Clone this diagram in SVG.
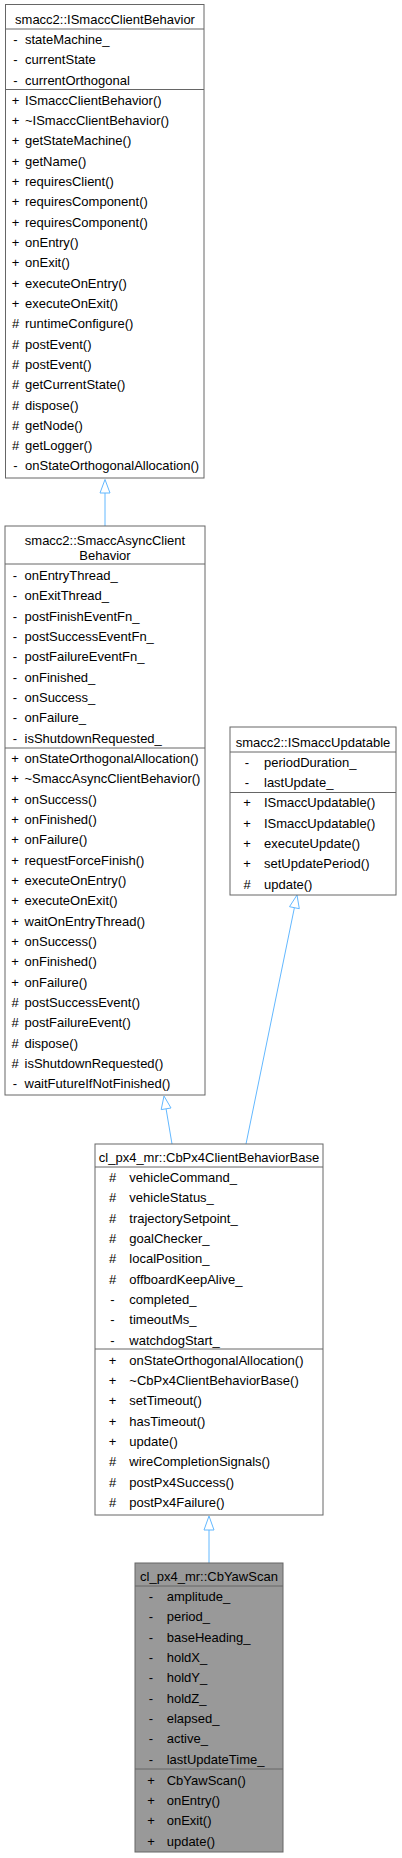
<svg xmlns="http://www.w3.org/2000/svg" width="402" height="1858" viewBox="0 0 402 1858">
<style>
text{font-family:"Liberation Sans",Arial,Helvetica,sans-serif;font-size:13px;fill:#000}
.t{text-anchor:middle}
.p{text-anchor:middle}
.box{fill:#fff;stroke:#666;stroke-width:1}
.cur{fill:#999;stroke:#666;stroke-width:1}
.sep{stroke:#666;stroke-width:1}
.edge{stroke:#63b8ff;stroke-width:1;fill:none}
.head{fill:#fff;stroke:#63b8ff;stroke-width:1}
</style>
<rect width="402" height="1858" fill="#fff"/>
<g id="connectors">
<line class="edge" x1="105" y1="526" x2="105" y2="493"/>
<polygon class="head" points="105,479.5 100,493 110,493"/>
<line class="edge" x1="172" y1="1144" x2="166.1" y2="1109"/>
<polygon class="head" points="164,1096 171,1108 161.2,1109.6"/>
<line class="edge" x1="246" y1="1144" x2="294.4" y2="907.7"/>
<polygon class="head" points="297,895 299.3,908.7 289.5,906.7"/>
<line class="edge" x1="209" y1="1563" x2="209" y2="1530"/>
<polygon class="head" points="209,1516 204,1530 214,1530"/>
</g>
<g id="node-ISmaccClientBehavior">
<rect class="box" x="5.5" y="4.5" width="198.5" height="473.5"/>
<line class="sep" x1="5.5" y1="29" x2="204" y2="29"/>
<line class="sep" x1="5.5" y1="89.5" x2="204" y2="89.5"/>
<text class="t" x="105" y="23.8">smacc2::ISmaccClientBehavior</text>
<text class="p" x="15.5" y="44">-</text><text x="25" y="44">stateMachine_</text>
<text class="p" x="15.5" y="64.3">-</text><text x="25" y="64.3">currentState</text>
<text class="p" x="15.5" y="84.7">-</text><text x="25" y="84.7">currentOrthogonal</text>
<text class="p" x="15.5" y="104.5">+</text><text x="25" y="104.5">ISmaccClientBehavior()</text>
<text class="p" x="15.5" y="124.8">+</text><text x="25" y="124.8">~ISmaccClientBehavior()</text>
<text class="p" x="15.5" y="145.2">+</text><text x="25" y="145.2">getStateMachine()</text>
<text class="p" x="15.5" y="165.5">+</text><text x="25" y="165.5">getName()</text>
<text class="p" x="15.5" y="185.8">+</text><text x="25" y="185.8">requiresClient()</text>
<text class="p" x="15.5" y="206.2">+</text><text x="25" y="206.2">requiresComponent()</text>
<text class="p" x="15.5" y="226.5">+</text><text x="25" y="226.5">requiresComponent()</text>
<text class="p" x="15.5" y="246.8">+</text><text x="25" y="246.8">onEntry()</text>
<text class="p" x="15.5" y="267.1">+</text><text x="25" y="267.1">onExit()</text>
<text class="p" x="15.5" y="287.5">+</text><text x="25" y="287.5">executeOnEntry()</text>
<text class="p" x="15.5" y="307.8">+</text><text x="25" y="307.8">executeOnExit()</text>
<text class="p" x="15.5" y="328.1">#</text><text x="25" y="328.1">runtimeConfigure()</text>
<text class="p" x="15.5" y="348.5">#</text><text x="25" y="348.5">postEvent()</text>
<text class="p" x="15.5" y="368.8">#</text><text x="25" y="368.8">postEvent()</text>
<text class="p" x="15.5" y="389.1">#</text><text x="25" y="389.1">getCurrentState()</text>
<text class="p" x="15.5" y="409.5">#</text><text x="25" y="409.5">dispose()</text>
<text class="p" x="15.5" y="429.8">#</text><text x="25" y="429.8">getNode()</text>
<text class="p" x="15.5" y="450.1">#</text><text x="25" y="450.1">getLogger()</text>
<text class="p" x="15.5" y="470.4">-</text><text x="25" y="470.4">onStateOrthogonalAllocation()</text>
</g>
<g id="node-SmaccAsyncClientBehavior">
<rect class="box" x="5" y="526" width="200" height="569"/>
<line class="sep" x1="5" y1="564" x2="205" y2="564"/>
<line class="sep" x1="5" y1="748" x2="205" y2="748"/>
<text class="t" x="105" y="544.5">smacc2::SmaccAsyncClient</text>
<text class="t" x="105" y="559.5">Behavior</text>
<text class="p" x="15" y="580">-</text><text x="24.5" y="580">onEntryThread_</text>
<text class="p" x="15" y="600.3">-</text><text x="24.5" y="600.3">onExitThread_</text>
<text class="p" x="15" y="620.7">-</text><text x="24.5" y="620.7">postFinishEventFn_</text>
<text class="p" x="15" y="641">-</text><text x="24.5" y="641">postSuccessEventFn_</text>
<text class="p" x="15" y="661.3">-</text><text x="24.5" y="661.3">postFailureEventFn_</text>
<text class="p" x="15" y="681.7">-</text><text x="24.5" y="681.7">onFinished_</text>
<text class="p" x="15" y="702">-</text><text x="24.5" y="702">onSuccess_</text>
<text class="p" x="15" y="722.3">-</text><text x="24.5" y="722.3">onFailure_</text>
<text class="p" x="15" y="742.6">-</text><text x="24.5" y="742.6">isShutdownRequested_</text>
<text class="p" x="15" y="763">+</text><text x="24.5" y="763">onStateOrthogonalAllocation()</text>
<text class="p" x="15" y="783.3">+</text><text x="24.5" y="783.3">~SmaccAsyncClientBehavior()</text>
<text class="p" x="15" y="803.7">+</text><text x="24.5" y="803.7">onSuccess()</text>
<text class="p" x="15" y="824">+</text><text x="24.5" y="824">onFinished()</text>
<text class="p" x="15" y="844.3">+</text><text x="24.5" y="844.3">onFailure()</text>
<text class="p" x="15" y="864.7">+</text><text x="24.5" y="864.7">requestForceFinish()</text>
<text class="p" x="15" y="885">+</text><text x="24.5" y="885">executeOnEntry()</text>
<text class="p" x="15" y="905.3">+</text><text x="24.5" y="905.3">executeOnExit()</text>
<text class="p" x="15" y="925.6">+</text><text x="24.5" y="925.6">waitOnEntryThread()</text>
<text class="p" x="15" y="946">+</text><text x="24.5" y="946">onSuccess()</text>
<text class="p" x="15" y="966.3">+</text><text x="24.5" y="966.3">onFinished()</text>
<text class="p" x="15" y="986.6">+</text><text x="24.5" y="986.6">onFailure()</text>
<text class="p" x="15" y="1007">#</text><text x="24.5" y="1007">postSuccessEvent()</text>
<text class="p" x="15" y="1027.3">#</text><text x="24.5" y="1027.3">postFailureEvent()</text>
<text class="p" x="15" y="1047.6">#</text><text x="24.5" y="1047.6">dispose()</text>
<text class="p" x="15" y="1068">#</text><text x="24.5" y="1068">isShutdownRequested()</text>
<text class="p" x="15" y="1088.3">-</text><text x="24.5" y="1088.3">waitFutureIfNotFinished()</text>
</g>
<g id="node-ISmaccUpdatable">
<rect class="box" x="230" y="727" width="166" height="168"/>
<line class="sep" x1="230" y1="752" x2="396" y2="752"/>
<line class="sep" x1="230" y1="792.5" x2="396" y2="792.5"/>
<text class="t" x="313" y="746.5">smacc2::ISmaccUpdatable</text>
<text class="p" x="247" y="766.5">-</text><text x="264" y="766.5">periodDuration_</text>
<text class="p" x="247" y="786.8">-</text><text x="264" y="786.8">lastUpdate_</text>
<text class="p" x="247" y="807.3">+</text><text x="264" y="807.3">ISmaccUpdatable()</text>
<text class="p" x="247" y="827.6">+</text><text x="264" y="827.6">ISmaccUpdatable()</text>
<text class="p" x="247" y="848">+</text><text x="264" y="848">executeUpdate()</text>
<text class="p" x="247" y="868.3">+</text><text x="264" y="868.3">setUpdatePeriod()</text>
<text class="p" x="247" y="888.6">#</text><text x="264" y="888.6">update()</text>
</g>
<g id="node-CbPx4ClientBehaviorBase">
<rect class="box" x="95" y="1144" width="228" height="371"/>
<line class="sep" x1="95" y1="1167" x2="323" y2="1167"/>
<line class="sep" x1="95" y1="1349" x2="323" y2="1349"/>
<text class="t" x="209" y="1161.5">cl_px4_mr::CbPx4ClientBehaviorBase</text>
<text class="p" x="112.5" y="1182">#</text><text x="129.3" y="1182">vehicleCommand_</text>
<text class="p" x="112.5" y="1202.3">#</text><text x="129.3" y="1202.3">vehicleStatus_</text>
<text class="p" x="112.5" y="1222.7">#</text><text x="129.3" y="1222.7">trajectorySetpoint_</text>
<text class="p" x="112.5" y="1243">#</text><text x="129.3" y="1243">goalChecker_</text>
<text class="p" x="112.5" y="1263.3">#</text><text x="129.3" y="1263.3">localPosition_</text>
<text class="p" x="112.5" y="1283.7">#</text><text x="129.3" y="1283.7">offboardKeepAlive_</text>
<text class="p" x="112.5" y="1304">-</text><text x="129.3" y="1304">completed_</text>
<text class="p" x="112.5" y="1324.3">-</text><text x="129.3" y="1324.3">timeoutMs_</text>
<text class="p" x="112.5" y="1344.6">-</text><text x="129.3" y="1344.6">watchdogStart_</text>
<text class="p" x="112.5" y="1364.5">+</text><text x="129.3" y="1364.5">onStateOrthogonalAllocation()</text>
<text class="p" x="112.5" y="1384.8">+</text><text x="129.3" y="1384.8">~CbPx4ClientBehaviorBase()</text>
<text class="p" x="112.5" y="1405.2">+</text><text x="129.3" y="1405.2">setTimeout()</text>
<text class="p" x="112.5" y="1425.5">+</text><text x="129.3" y="1425.5">hasTimeout()</text>
<text class="p" x="112.5" y="1445.8">+</text><text x="129.3" y="1445.8">update()</text>
<text class="p" x="112.5" y="1466.2">#</text><text x="129.3" y="1466.2">wireCompletionSignals()</text>
<text class="p" x="112.5" y="1486.5">#</text><text x="129.3" y="1486.5">postPx4Success()</text>
<text class="p" x="112.5" y="1506.8">#</text><text x="129.3" y="1506.8">postPx4Failure()</text>
</g>
<g id="node-CbYawScan">
<rect class="cur" x="135" y="1563" width="148" height="289"/>
<line class="sep" x1="135" y1="1586" x2="283" y2="1586"/>
<line class="sep" x1="135" y1="1769" x2="283" y2="1769"/>
<text class="t" x="209" y="1580.5">cl_px4_mr::CbYawScan</text>
<text class="p" x="151" y="1601">-</text><text x="166.7" y="1601">amplitude_</text>
<text class="p" x="151" y="1621.3">-</text><text x="166.7" y="1621.3">period_</text>
<text class="p" x="151" y="1641.7">-</text><text x="166.7" y="1641.7">baseHeading_</text>
<text class="p" x="151" y="1662">-</text><text x="166.7" y="1662">holdX_</text>
<text class="p" x="151" y="1682.3">-</text><text x="166.7" y="1682.3">holdY_</text>
<text class="p" x="151" y="1702.7">-</text><text x="166.7" y="1702.7">holdZ_</text>
<text class="p" x="151" y="1723">-</text><text x="166.7" y="1723">elapsed_</text>
<text class="p" x="151" y="1743.3">-</text><text x="166.7" y="1743.3">active_</text>
<text class="p" x="151" y="1763.6">-</text><text x="166.7" y="1763.6">lastUpdateTime_</text>
<text class="p" x="151" y="1784.5">+</text><text x="166.7" y="1784.5">CbYawScan()</text>
<text class="p" x="151" y="1804.8">+</text><text x="166.7" y="1804.8">onEntry()</text>
<text class="p" x="151" y="1825.2">+</text><text x="166.7" y="1825.2">onExit()</text>
<text class="p" x="151" y="1845.5">+</text><text x="166.7" y="1845.5">update()</text>
</g>
</svg>
